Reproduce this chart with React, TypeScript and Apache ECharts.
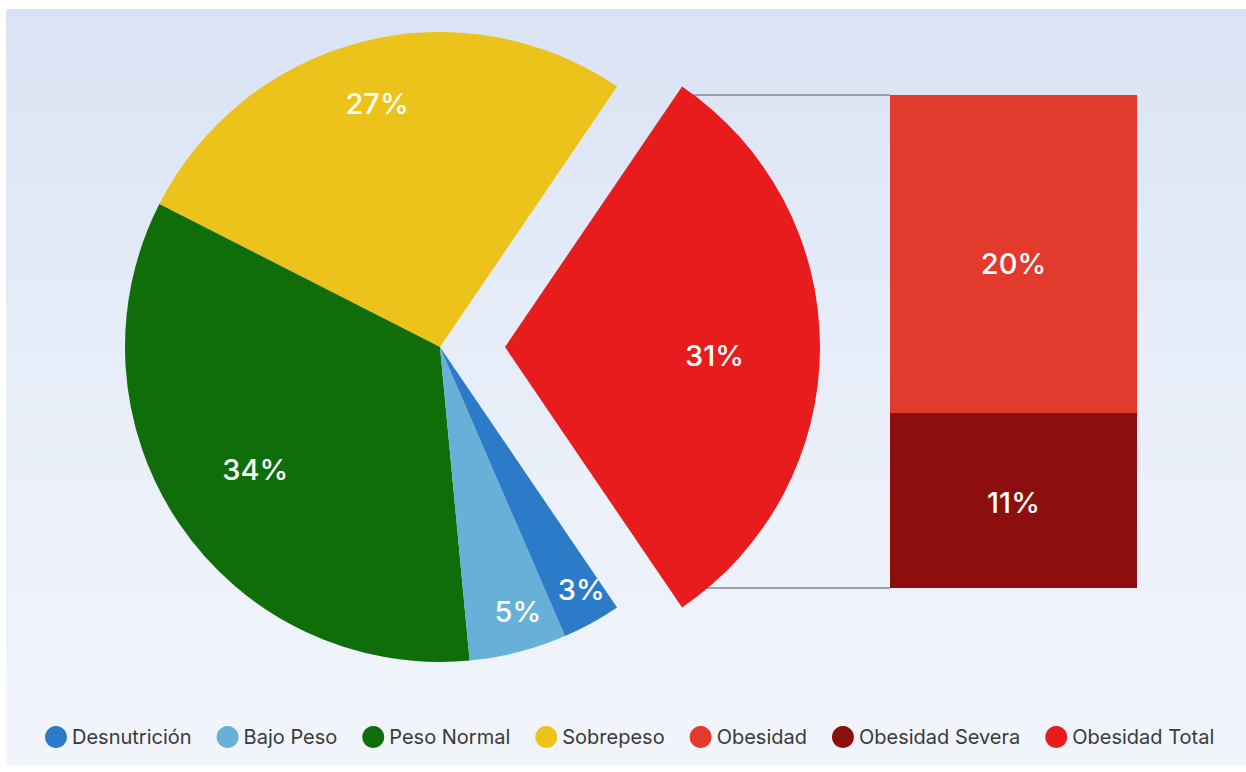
import React, { useEffect, useRef } from "react";
import * as echarts from "echarts";

// ---- data ----
const pieNames = ["Obesidad Total", "Sobrepeso", "Peso Normal", "Bajo Peso", "Desnutrición"];
const pieValues = [31, 27, 34, 5, 3];
const pieColors = ["#e81c1c", "#ecc31a", "#0f6e0a", "#67b1d8", "#2b7bc8"];

const barCategories = ["Obesidad Total"];
const barSeriesNames = ["Obesidad Severa", "Obesidad"];
const barValues = [11, 20];
const barColors = ["#8c0e0f", "#e23a2c"];

const legendOrder = [
  "Desnutrición",
  "Bajo Peso",
  "Peso Normal",
  "Sobrepeso",
  "Obesidad",
  "Obesidad Severa",
  "Obesidad Total",
];

// ---- layout ----
const PIE_CX = 440;
const PIE_CY = 347;
const PIE_R = 315;
const EXPLODE = 65;
const BAR_LEFT = 890;
const BAR_TOP = 95;
const BAR_W = 247;
const BAR_H = 493;
// per-slice label nudges (px) from the default inside position
const LABEL_SHIFT = [
  [49, 8],
  [-11.5, -44],
  [-26, 16],
  [19, 54.5],
  [32, 51],
];
const BAR_LABEL_SHIFT = [
  [0, 2],
  [0, 9],
];

const FONT = "Inter, 'Noto Sans', sans-serif";

export default function App() {
  const ref = useRef<HTMLDivElement>(null);

  useEffect(() => {
    if (!ref.current) return;
    const chart = echarts.init(ref.current, undefined, { renderer: "svg" });
    const total = pieValues.reduce((a, b) => a + b, 0);
    const half = (pieValues[0] / total) * 180;

    const barTotal = barValues.reduce((a, b) => a + b, 0);

    chart.setOption({
      animation: false,
      backgroundColor: "#ffffff",
      legend: {
        data: legendOrder,
        top: 721,
        left: 40,
        icon: "circle",
        itemWidth: 22,
        itemHeight: 22,
        itemGap: 25,
        textStyle: { fontFamily: FONT, fontSize: 20, color: "#3a3a3a" },
        selectedMode: false,
      },
      grid: {
        left: BAR_LEFT,
        top: BAR_TOP,
        width: BAR_W,
        height: BAR_H,
      },
      xAxis: {
        type: "category",
        data: barCategories,
        show: false,
      },
      yAxis: {
        type: "value",
        min: 0,
        max: barTotal,
        show: false,
      },
      series: [
        {
          type: "pie",
          center: [PIE_CX, PIE_CY],
          radius: [0, PIE_R],
          startAngle: -half,
          clockwise: false,
          selectedMode: "single",
          selectedOffset: EXPLODE,
          silent: true,
          emphasis: { disabled: true },
          label: {
            show: true,
            position: "inside",
            formatter: "{c}%",
            color: "#ffffff",
            fontFamily: FONT,
            fontSize: 29,
            fontWeight: 500,
          },
          labelLine: { show: false },
          labelLayout: (p: any) => ({
            dx: LABEL_SHIFT[p.dataIndex][0],
            dy: LABEL_SHIFT[p.dataIndex][1],
          }),
          data: pieNames.map((n, i) => ({
            name: n,
            value: pieValues[i],
            selected: i === 0,
            itemStyle: { color: pieColors[i] },
          })),
        },
        ...barSeriesNames.map((n, i) => ({
          type: "bar",
          name: n,
          stack: "ob",
          barWidth: "100%",
          silent: true,
          itemStyle: { color: barColors[i] },
          label: {
            show: true,
            position: "inside",
            offset: BAR_LABEL_SHIFT[i],
            formatter: "{c}%",
            color: "#ffffff",
            fontFamily: FONT,
            fontSize: 29,
            fontWeight: 500,
          },
          data: [barValues[i]],
        })),
      ],
    });

    const rad = (half * Math.PI) / 180;
    const cornerX = PIE_CX + EXPLODE + PIE_R * Math.cos(rad);
    const topPt = chart.convertToPixel({ xAxisIndex: 0, yAxisIndex: 0 }, [0, barTotal]) as number[];
    const botPt = chart.convertToPixel({ xAxisIndex: 0, yAxisIndex: 0 }, [0, 0]) as number[];

    chart.setOption({
      graphic: [
        {
          type: "rect",
          z: -10,
          silent: true,
          shape: { x: 6, y: 9, width: 1240, height: 756 },
          style: {
            fill: new echarts.graphic.LinearGradient(0, 0, 0, 1, [
              { offset: 0, color: "#dae3f5" },
              { offset: 0.45, color: "#e7edf8" },
              { offset: 1, color: "#f2f5fb" },
            ]),
          },
        },
        {
          type: "line",
          z: 1,
          silent: true,
          shape: { x1: cornerX, y1: topPt[1], x2: BAR_LEFT, y2: topPt[1] },
          style: { stroke: "#7d8799", lineWidth: 1.5 },
        },
        {
          type: "line",
          z: 1,
          silent: true,
          shape: { x1: cornerX, y1: botPt[1], x2: BAR_LEFT, y2: botPt[1] },
          style: { stroke: "#7d8799", lineWidth: 1.5 },
        },
      ],
    });

    return () => chart.dispose();
  }, []);

  return (
    <div
      ref={ref}
      style={{ position: "absolute", left: 0, top: 0, width: 1246, height: 772 }}
    />
  );
}
